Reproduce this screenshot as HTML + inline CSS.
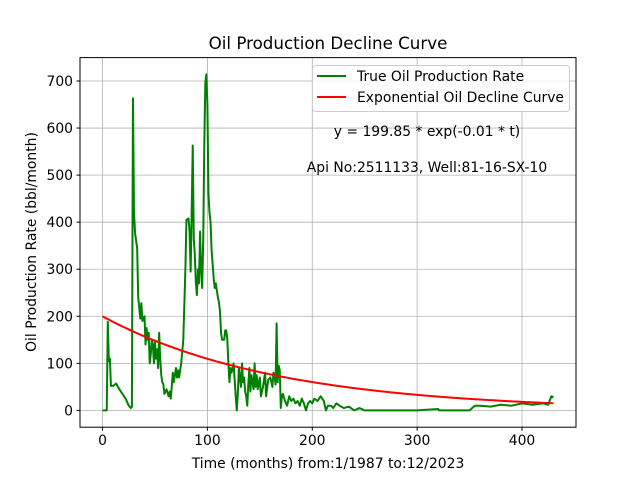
<!DOCTYPE html>
<html><head><meta charset="utf-8"><style>
body{margin:0;background:#fff}
svg{display:block;font-family:"DejaVu Sans","Liberation Sans",sans-serif}
</style></head><body>
<svg id="chart" width="640" height="480" viewBox="0 0 640 480">
<rect width="640" height="480" fill="#fff"/>
<g id="grid"></g>
<g id="series"></g>
<rect x="80" y="57.6" width="496" height="369.6" fill="none" stroke="#000" stroke-width="1"/>
<g id="ticks"></g>
<text x="328" y="49" text-anchor="middle" font-size="16.7">Oil Production Decline Curve</text>
<text x="328" y="468" text-anchor="middle" font-size="13.9">Time (months) from:1/1987 to:12/2023</text>
<text transform="translate(36,242) rotate(-90)" text-anchor="middle" font-size="13.9">Oil Production Rate (bbl/month)</text>
<text x="427" y="136" text-anchor="middle" font-size="13.9">y = 199.85 * exp(-0.01 * t)</text>
<text x="427" y="172" text-anchor="middle" font-size="13.9">Api No:2511133, Well:81-16-SX-10</text>
<g>
<rect x="312.5" y="65.5" width="257" height="46" rx="3" fill="#fff" fill-opacity="0.85" stroke="#ccc"/>
<line x1="317" y1="76" x2="346" y2="76" stroke="#008000" stroke-width="2"/>
<text x="357" y="81" font-size="13.9">True Oil Production Rate</text>
<line x1="317" y1="97" x2="346" y2="97" stroke="#ff0000" stroke-width="2"/>
<text x="357" y="102" font-size="13.9">Exponential Oil Decline Curve</text>
</g>
</svg>
<script>
const months=[0,4,5,6,7,8,10,13,16,19,22,25,27,28,29,30,31,33,34,36,37,38,40,41,42,43,44,45,46,47,48,49,50,51,52,53,54,55,56,57,58,59,61,63,64,65,66,67,68,70,71,72,73,75,77,79,80,82,83,84,85,86,87,88,89,90,91,92,93,94,95,96,97,98,99,100,101,102,103,104,106,107,108,110,111,112,113,114,116,117,118,119,120,121,122,123,125,127,128,129,130,132,133,134,135,136,137,138,139,140,141,142,143,144,145,146,147,148,150,151,153,155,156,158,160,162,163,164,165,166,167,168,169,170,171,172,174,176,178,180,182,184,186,188,190,192,194,196,198,200,202,205,208,211,213,215,218,220,223,226,230,235,240,245,250,260,300,320,321,350,355,360,370,380,390,400,410,420,425,428,430];
const rates=[0,0,188,105,110,52,52,57,45,35,25,10,5,8,663,420,377,345,241,195,228,190,200,140,175,150,165,100,120,150,140,100,145,110,130,90,165,110,75,60,55,35,45,30,40,25,50,80,60,90,70,85,70,100,150,300,405,408,380,295,420,563,365,330,270,245,300,270,380,300,260,360,560,695,714,650,460,420,400,340,280,260,270,240,230,210,165,150,150,170,170,150,100,60,90,80,100,30,0,35,90,50,100,60,70,40,30,10,55,90,40,75,60,45,100,50,75,45,70,30,50,80,30,65,70,50,80,75,55,185,60,95,85,5,30,35,20,10,30,20,25,15,20,10,25,15,0,15,20,15,25,20,30,20,0,10,10,5,15,10,5,8,0,5,0,0,0,3,0,0,10,10,8,12,10,15,12,15,12,30,28];
const fitA=199.85, fitK=0.006, fitEnd=430;
const xTicks=[0,100,200,300,400];
const yTicks=[0,100,200,300,400,500,600,700];
const NS="http://www.w3.org/2000/svg";
const X0=80,X1=576,Y0=57.6,Y1=427.2,xmin=-21.5,xmax=451.5,ymin=-35.7,ymax=749.7;
function sx(v){return X0+(v-xmin)/(xmax-xmin)*(X1-X0);}
function sy(v){return Y1-(v-ymin)/(ymax-ymin)*(Y1-Y0);}
function mk(t,a,p){const e=document.createElementNS(NS,t);for(const k in a)e.setAttribute(k,a[k]);p.appendChild(e);return e;}
const grid=document.getElementById('grid'),ticks=document.getElementById('ticks'),ser=document.getElementById('series');
xTicks.forEach(v=>{const x=sx(v);
 const g=mk('line',{x1:x,x2:x,y1:Y0,y2:Y1,stroke:'#b0b0b0','stroke-width':0.8},grid);
 
 
 const t=mk('line',{x1:x,x2:x,y1:Y1,y2:Y1+3.5,stroke:'#000'},ticks);
 
 
 const l=mk('text',{x:x,y:Y1+18,'text-anchor':'middle','font-size':13.9},ticks);l.textContent=v;
 
 
});
yTicks.forEach(v=>{const y=sy(v);
 const g=mk('line',{x1:X0,x2:X1,y1:y,y2:y,stroke:'#b0b0b0','stroke-width':0.8},grid);
 
 
 const t=mk('line',{x1:X0-3.5,x2:X0,y1:y,y2:y,stroke:'#000'},ticks);
 
 
 const l=mk('text',{x:X0-7,y:y+5,'text-anchor':'end','font-size':13.9},ticks);l.textContent=v;
 
 
});
const gp=mk('polyline',{points:months.map((m,i)=>sx(m)+','+sy(rates[i])).join(' '),fill:'none',stroke:'#008000','stroke-width':2,'stroke-linejoin':'round'},ser);


const fp=[];for(let t=0;t<=fitEnd;t+=2)fp.push(sx(t)+','+sy(fitA*Math.exp(-fitK*t)));
const rp=mk('polyline',{points:fp.join(' '),fill:'none',stroke:'#ff0000','stroke-width':2},ser);


</script>
</body></html>
